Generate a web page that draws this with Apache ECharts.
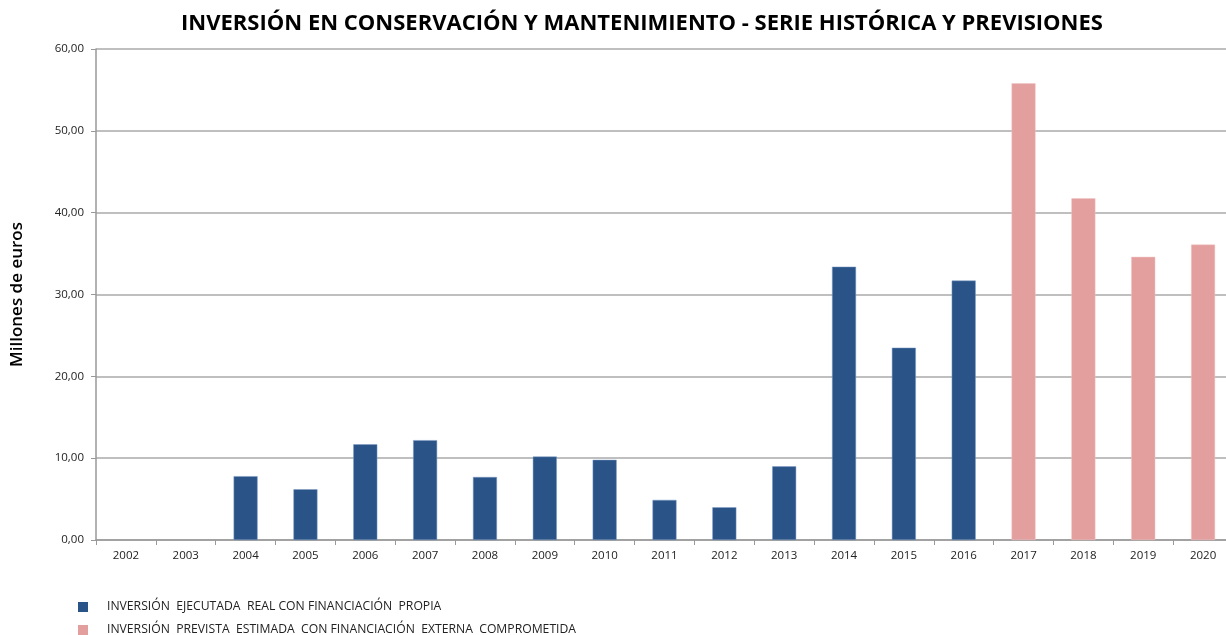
<!DOCTYPE html>
<html>
<head>
<meta charset="utf-8">
<script src="https://cdn.jsdelivr.net/npm/echarts@6/dist/echarts.min.js"></script>
<style>
  html, body { margin: 0; padding: 0; background: #fff; overflow: hidden; }
  #chart { width: 1233px; height: 635px; }
</style>
</head>
<body>
<div id="chart"></div>
<script>
const years = ['2002', '2003', '2004', '2005', '2006', '2007', '2008', '2009', '2010', '2011',
  '2012', '2013', '2014', '2015', '2016', '2017', '2018', '2019', '2020'];

// executed investment, own funding (millions of euros)
const ejecutada = [null, null, 7.8, 6.2, 11.7, 12.2, 7.7, 10.2, 9.8, 4.9,
  4.0, 9.0, 33.4, 23.5, 31.7, null, null, null, null];

// planned investment, committed external funding
const prevista = [null, null, null, null, null, null, null, null, null, null,
  null, null, null, null, null, 55.8, 41.75, 34.6, 36.1];

const yTicks = { min: 0, max: 60, interval: 10 };

const nameReal = 'INVERSIÓN  EJECUTADA  REAL CON FINANCIACIÓN  PROPIA';
const namePrev = 'INVERSIÓN  PREVISTA  ESTIMADA  CON FINANCIACIÓN  EXTERNA  COMPROMETIDA';

const legendBase = {
  left: 73,
  itemWidth: 10,
  itemHeight: 10,
  icon: 'rect',
  itemStyle: { borderWidth: 0 },
  textStyle: { fontSize: 12.2, color: '#222', padding: [8, 0, 0, 14] }
};

const chart = echarts.init(document.getElementById('chart'));

chart.setOption({
  animation: false,
  textStyle: { fontFamily: 'Open Sans' },
  title: {
    text: 'INVERSIÓN EN CONSERVACIÓN Y MANTENIMIENTO - SERIE HISTÓRICA Y PREVISIONES',
    left: 637,
    textAlign: 'center',
    top: 8,
    textStyle: { fontSize: 22, fontWeight: 'bold', color: '#000', fontFamily: 'Open Sans' }
  },
  legend: [
    Object.assign({ top: 596, data: [nameReal] }, legendBase),
    Object.assign({ top: 619, data: [namePrev] }, legendBase)
  ],
  grid: { left: 96, top: 49, right: 0, height: 491 },
  xAxis: {
    type: 'category',
    data: years,
    axisLine: { lineStyle: { color: '#999', width: 1.5 } },
    axisTick: { show: true, length: 5, alignWithLabel: false, lineStyle: { color: '#999' } },
    axisLabel: { color: '#222', fontSize: 11.5, margin: 10 }
  },
  yAxis: {
    type: 'value',
    min: yTicks.min,
    max: yTicks.max,
    interval: yTicks.interval,
    name: 'Millones de euros',
    nameLocation: 'middle',
    nameGap: 70,
    nameTextStyle: { fontSize: 17, color: '#000', fontWeight: 600 },
    axisLine: { show: true, lineStyle: { color: '#999', width: 1.5 } },
    axisTick: { show: true, length: 5, lineStyle: { color: '#999' } },
    axisLabel: {
      color: '#222', fontSize: 11.5, margin: 12,
      formatter: v => v.toFixed(2).replace('.', ',')
    },
    splitLine: { lineStyle: { color: '#aaa', width: 1.5 } }
  },
  series: [
    {
      name: nameReal,
      type: 'bar',
      data: ejecutada,
      barWidth: 24,
      barGap: '-100%',
      itemStyle: { color: '#2A5388', borderColor: '#7f9cc4', borderWidth: 0.5 }
    },
    {
      name: namePrev,
      type: 'bar',
      data: prevista,
      barWidth: 24,
      barGap: '-100%',
      itemStyle: { color: '#E39E9E', borderColor: '#f0c4c4', borderWidth: 0.5 }
    }
  ]
});
</script>
</body>
</html>
